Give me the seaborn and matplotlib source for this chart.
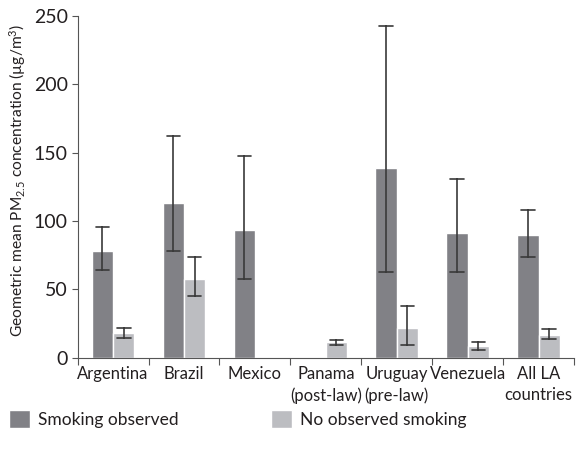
import numpy as np
import pandas as pd
import seaborn as sns
from matplotlib import pyplot as plt

# values (geometric mean, lower / upper CI)
countries = ["Argentina", "Brazil", "Mexico", "Panama\n(post-law)",
             "Uruguay\n(pre-law)", "Venezuela", "All LA\ncountries"]
groups = ["Smoking observed", "No observed smoking"]

smoke_mean = [78, 113, 93.5, None, 138.5, 91, 90]
smoke_lo = [64.5, 78, 57.5, None, 63, 63, 73.5]
smoke_hi = [95.5, 162.5, 147.5, None, 243, 131, 108]

nosmoke_mean = [18.3, 57.5, None, 11.5, 21.7, 8.6, 16.6]
nosmoke_lo = [14.6, 45, None, 9.3, 9.1, 5.6, 13.7]
nosmoke_hi = [21.5, 73.5, None, 13.2, 37.6, 11.7, 20.8]

colors = ["#818186", "#bcbdc1"]

# long table: lo / mean / hi per bar -> median gives the bar, min/max the whiskers
rows = []
for g, (m, lo, hi) in zip(groups, [(smoke_mean, smoke_lo, smoke_hi),
                                   (nosmoke_mean, nosmoke_lo, nosmoke_hi)]):
    for c, a, b, d in zip(countries, m, lo, hi):
        if a is None:
            continue
        for v in (b, a, d):
            rows.append({"country": c, "group": g, "value": v})
df = pd.DataFrame(rows)

sns.set_style("ticks")
plt.rcParams["font.family"] = ["Lato", "DejaVu Sans"]
plt.rcParams["mathtext.fontset"] = "custom"
plt.rcParams["mathtext.rm"] = "Lato"
plt.rcParams["mathtext.it"] = "Lato"
textcol = "#231f20"

fig = plt.figure(figsize=(5.78, 4.58), dpi=100)
ax = fig.add_axes([0.1344, 0.219, 0.8586, 0.746])

sns.barplot(data=df, x="country", y="value", hue="group", order=countries,
            hue_order=groups, palette=colors, estimator=np.median,
            errorbar=lambda v: (v.min(), v.max()), width=0.6, saturation=1,
            capsize=0.38, err_kws={"color": "#3a3a3a", "linewidth": 1.2},
            ax=ax, legend=True)

ax.set_ylim(0, 250)
ax.set_xlim(-0.5, len(countries) - 0.5)
ax.set_yticks([0, 50, 100, 150, 200, 250])
ax.tick_params(axis="y", labelsize=14, length=4, width=0.8, colors="#555",
               labelcolor=textcol, pad=3)

ax.set_xticks(np.arange(-0.5, len(countries)), labels=[""] * (len(countries) + 1))
ax.set_xticks(range(len(countries)), labels=countries, minor=True)
ax.tick_params(axis="x", which="major", length=5, width=0.8, colors="#555")
ax.tick_params(axis="x", which="minor", length=0, labelsize=12,
               labelcolor=textcol, pad=6)
for t in ax.get_xticklabels(minor=True):
    t.set_linespacing(1.4)

ax.set_xlabel("")
ax.set_ylabel(r"Geometric mean PM$_{2.5}$ concentration (µg/m$^3$)",
              fontsize=11.2, color=textcol)
ax.yaxis.set_label_coords(-0.10, 0.52)

sns.despine(ax=ax)
for s in ["left", "bottom"]:
    ax.spines[s].set_color("#555")
    ax.spines[s].set_linewidth(0.8)

handles, labels = ax.get_legend_handles_labels()
ax.get_legend().remove()
fig.legend(handles, labels, loc="center left", bbox_to_anchor=(-0.012, 0.085),
           ncol=2, frameon=False, fontsize=12.5, handlelength=1.2,
           handleheight=1.2, handletextpad=0.5, columnspacing=5.3,
           labelcolor=textcol)

fig.savefig("out.png", dpi=100)
